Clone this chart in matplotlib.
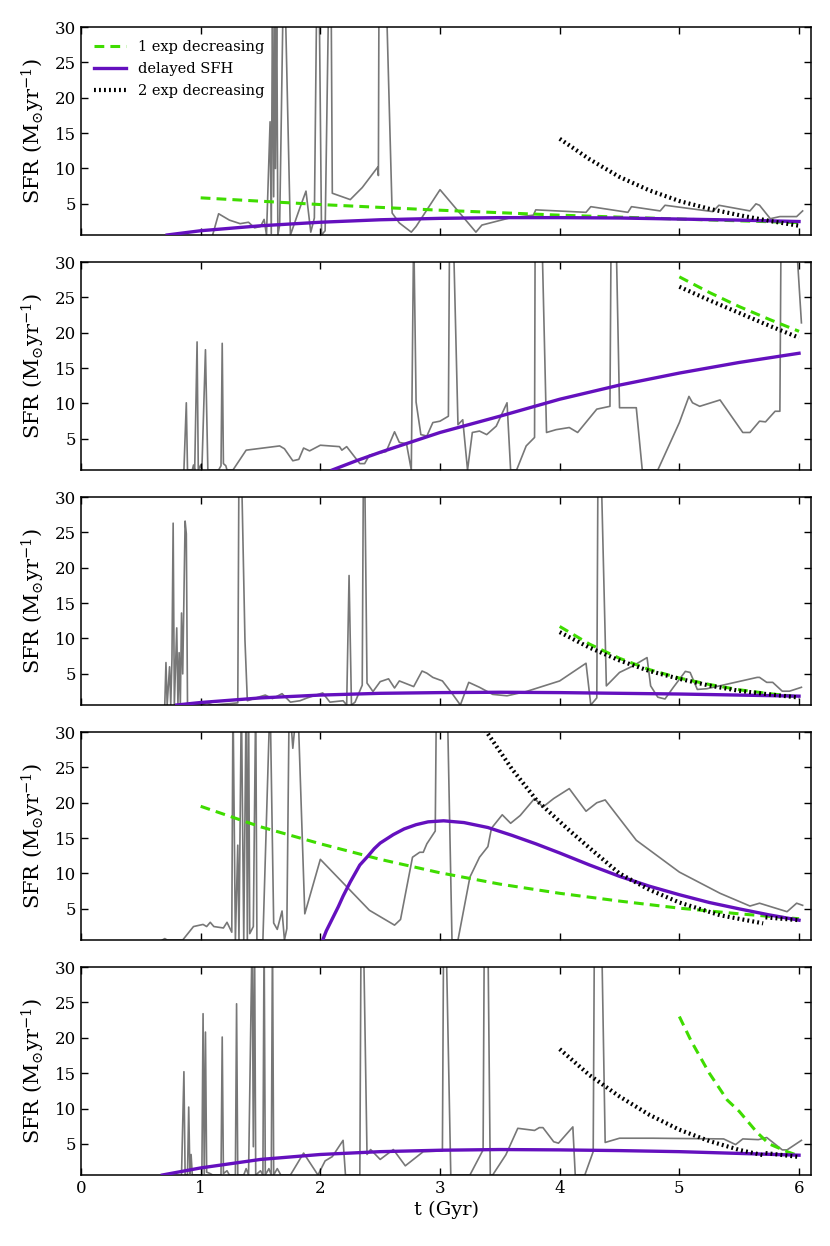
import numpy as np
import matplotlib
matplotlib.use("Agg")
import matplotlib.pyplot as plt

# ---------------- data ----------------
# Panel 1
gray1_t = [1.10, 1.15, 1.24, 1.33, 1.40, 1.45, 1.50, 1.53, 1.55, 1.58, 1.59, 1.60, 1.61, 1.62, 1.625, 1.635, 1.645,
           1.66, 1.69, 1.705, 1.75, 1.82, 1.88, 1.92, 1.95, 1.97, 1.99, 2.01, 2.04, 2.07, 2.09, 2.10, 2.15, 2.25,
           2.35, 2.48, 2.485, 2.49, 2.55, 2.60, 2.66, 2.76, 2.80, 3.00, 3.30, 3.35, 3.58, 3.78, 3.80, 4.22, 4.26,
           4.57, 4.60, 4.84, 4.88, 5.28, 5.33, 5.59, 5.64, 5.67, 5.76, 5.84, 5.98, 6.03]
gray1_v = [0.6, 3.6, 2.7, 2.2, 2.4, 1.6, 1.8, 2.8, 0.6, 16.6, 0.8, 35, 6.0, 35, 10.0, 35, 0.6,
           2.0, 35, 35, 0.6, 4.0, 6.8, 1.0, 3.0, 35, 35, 0.6, 1.2, 35, 35, 6.5, 6.2, 5.6,
           7.3, 10.2, 9.0, 35, 35, 3.7, 2.3, 1.0, 1.8, 7.0, 1.0, 2.0, 3.0, 3.4, 4.15, 3.8, 4.6,
           3.8, 4.6, 4.0, 4.8, 3.9, 4.8, 4.0, 5.0, 4.8, 2.9, 3.2, 3.2, 4.0]
green1_t = [1.0, 2.0, 3.0, 4.0, 5.0, 6.0]
green1_v = [5.85, 4.9, 4.1, 3.4, 2.85, 2.35]
purple1_t = [0.72, 1.0, 1.5, 2.0, 2.5, 3.0, 3.5, 4.0, 4.5, 5.0, 5.5, 6.0]
purple1_v = [0.6, 1.2, 1.9, 2.4, 2.75, 2.95, 3.05, 3.05, 3.0, 2.85, 2.7, 2.5]
black1_t = [4.0, 4.25, 4.5, 4.75, 5.0, 5.25, 5.5, 5.75, 6.0]
black1_v = [14.2, 11.3, 8.8, 6.9, 5.4, 4.3, 3.4, 2.6, 1.9]

# Panel 2
gray2_t = [0.86, 0.88, 0.89, 0.93, 0.94, 0.95, 0.97, 0.98, 1.00, 1.01, 1.04, 1.06, 1.15, 1.17, 1.18, 1.19, 1.21,
           1.22, 1.27, 1.38, 1.66, 1.70, 1.77, 1.82, 1.86, 1.91, 2.00, 2.16, 2.18, 2.22, 2.33, 2.37, 2.41, 2.55,
           2.62, 2.66, 2.72, 2.76, 2.78, 2.80, 2.84, 2.89, 2.94, 3.00, 3.07, 3.08, 3.11, 3.15, 3.19, 3.23, 3.27,
           3.33, 3.39, 3.47, 3.56, 3.59, 3.64, 3.72, 3.79, 3.795, 3.85, 3.89, 3.97, 4.08, 4.15, 4.31, 4.42, 4.43,
           4.47, 4.50, 4.64, 4.69, 4.82, 5.00, 5.08, 5.11, 5.17, 5.34, 5.53, 5.59, 5.67, 5.72, 5.80, 5.84, 5.85,
           5.97, 6.02]
gray2_v = [0.6, 10.1, 0.6, 0.6, 1.3, 0.6, 18.7, 0.6, 1.3, 0.6, 17.6, 0.6, 0.6, 1.2, 18.5, 1.5, 1.2,
           0.6, 0.6, 3.4, 4.0, 3.6, 1.9, 2.1, 3.7, 3.3, 4.1, 3.9, 3.4, 3.9, 1.5, 1.5, 2.7, 3.2,
           6.0, 4.5, 4.3, 0.6, 35, 10.2, 5.6, 5.4, 7.3, 7.5, 8.2, 35, 35, 7.0, 7.7, 0.6, 5.9,
           6.1, 5.6, 6.8, 10.1, 0.6, 0.6, 4.0, 5.2, 35, 35, 5.9, 6.3, 6.6, 5.9, 9.2, 9.6, 35,
           35, 9.4, 9.4, 0.6, 0.6, 7.3, 11.0, 10.1, 9.6, 10.5, 5.9, 5.9, 7.5, 7.4, 8.9, 8.9, 35,
           35, 21.4]
green2_t = [5.0, 5.25, 5.5, 5.75, 6.0]
green2_v = [27.9, 25.7, 23.7, 21.9, 20.2]
purple2_t = [2.1, 2.3, 2.5, 2.66, 3.0, 3.5, 4.0, 4.5, 5.0, 5.5, 6.0]
purple2_v = [0.6, 1.9, 3.1, 4.0, 5.9, 8.2, 10.6, 12.6, 14.3, 15.8, 17.1]
black2_t = [5.0, 5.25, 5.5, 5.75, 6.0]
black2_v = [26.5, 24.6, 22.8, 21.0, 19.3]

# Panel 3
gray3_t = [0.70, 0.71, 0.72, 0.74, 0.75, 0.76, 0.77, 0.78, 0.80, 0.81, 0.82, 0.83, 0.84, 0.85, 0.87, 0.88, 0.89,
           1.00, 1.05, 1.10, 1.25, 1.31, 1.32, 1.34, 1.37, 1.39, 1.50, 1.54, 1.60, 1.68, 1.75, 1.83, 1.89, 2.02,
           2.08, 2.19, 2.22, 2.24, 2.26, 2.29, 2.35, 2.36, 2.37, 2.39, 2.44, 2.50, 2.57, 2.62, 2.66, 2.78, 2.85,
           2.89, 2.94, 3.02, 3.10, 3.17, 3.24, 3.33, 3.44, 3.56, 3.72, 4.00, 4.22, 4.26, 4.31, 4.32, 4.345, 4.39,
           4.50, 4.61, 4.65, 4.73, 4.76, 4.82, 4.88, 4.95, 5.05, 5.09, 5.15, 5.23, 5.65, 5.67, 5.73, 5.78, 5.86,
           5.92, 6.02]
gray3_v = [0.6, 6.6, 0.6, 6.0, 0.6, 7.1, 26.3, 0.6, 11.5, 0.6, 8.0, 0.6, 13.6, 5.0, 26.6, 24.8, 0.6,
           0.6, 0.9, 0.6, 0.8, 0.9, 35, 35, 9.8, 1.2, 1.8, 2.0, 1.5, 2.2, 1.0, 1.2, 1.6, 2.3,
           1.0, 1.2, 0.6, 18.9, 0.6, 1.0, 3.4, 35, 35, 3.7, 2.5, 3.9, 4.3, 3.0, 4.0, 3.2, 5.4,
           5.1, 4.5, 4.0, 2.25, 0.6, 3.8, 3.1, 2.1, 1.9, 2.5, 4.0, 6.5, 0.6, 1.6, 35, 35, 3.3,
           5.2, 6.1, 6.5, 7.3, 3.3, 1.7, 1.45, 3.1, 5.35, 5.2, 2.8, 2.9, 4.5, 4.5, 3.8, 3.8, 2.55,
           2.55, 3.1]
green3_t = [4.0, 4.25, 4.5, 4.75, 5.0, 5.25, 5.5, 5.75, 6.0]
green3_v = [11.7, 9.2, 7.2, 5.6, 4.4, 3.5, 2.75, 2.2, 1.75]
purple3_t = [0.8, 1.0, 1.5, 2.0, 2.5, 3.0, 3.5, 4.0, 4.5, 5.0, 5.5, 6.0]
purple3_v = [0.6, 0.95, 1.6, 2.0, 2.25, 2.35, 2.4, 2.35, 2.25, 2.15, 2.0, 1.85]
black3_t = [4.0, 4.25, 4.5, 4.75, 5.0, 5.25, 5.5, 5.75, 6.0]
black3_v = [10.9, 8.7, 6.9, 5.4, 4.3, 3.35, 2.6, 2.1, 1.65]

# Panel 4
gray4_t = [0.68, 0.70, 0.72, 0.85, 0.94, 1.02, 1.05, 1.08, 1.11, 1.19, 1.22, 1.26, 1.27, 1.29, 1.31, 1.32, 1.34,
           1.36, 1.38, 1.39, 1.40, 1.41, 1.44, 1.46, 1.47, 1.52, 1.58, 1.61, 1.64, 1.68, 1.70, 1.72, 1.74, 1.77,
           1.81, 1.87, 2.00, 2.41, 2.62, 2.67, 2.77, 2.83, 2.86, 2.89, 2.96, 2.97, 3.06, 3.10, 3.15, 3.25, 3.33,
           3.40, 3.43, 3.52, 3.59, 3.67, 3.79, 3.86, 3.95, 4.08, 4.22, 4.31, 4.38, 4.64, 5.00, 5.34, 5.59, 5.67,
           5.90, 5.98, 6.03]
gray4_v = [0.6, 0.8, 0.6, 0.6, 2.5, 2.8, 2.5, 3.1, 2.5, 2.3, 3.1, 1.7, 35, 0.6, 14.0, 0.6, 35,
           0.6, 35, 0.6, 35, 1.5, 2.5, 35, 0.6, 0.6, 35, 3.0, 2.1, 4.7, 0.6, 2.2, 35, 27.7,
           35, 4.3, 12.0, 4.8, 2.7, 3.5, 12.3, 13.0, 13.0, 14.2, 16.0, 35, 35, 0.6, 0.6, 9.5, 12.3,
           13.8, 16.4, 18.3, 17.1, 18.2, 20.6, 19.4, 20.6, 22.0, 18.8, 20.0, 20.4, 14.7, 10.2, 7.2, 5.4, 5.8,
           4.6, 5.8, 5.5]
green4_t = [1.0, 1.5, 2.0, 2.5, 3.0, 3.5, 4.0, 4.5, 5.0, 5.5, 6.0]
green4_v = [19.5, 16.6, 14.2, 12.0, 10.1, 8.5, 7.2, 6.1, 5.1, 4.3, 3.6]
purple4_t = [2.02, 2.05, 2.10, 2.15, 2.19, 2.25, 2.33, 2.40, 2.45, 2.50, 2.61, 2.70, 2.80, 2.90, 3.03, 3.20,
             3.40, 3.60, 3.80, 4.00, 4.25, 4.50, 4.75, 5.00, 5.25, 5.50, 5.75, 6.00]
purple4_v = [0.6, 1.9, 3.6, 5.3, 6.8, 8.8, 11.2, 12.5, 13.5, 14.3, 15.5, 16.3, 16.9, 17.3, 17.45, 17.2,
             16.5, 15.4, 14.2, 12.9, 11.2, 9.6, 8.2, 7.0, 5.9, 5.0, 4.15, 3.4]
black4_t = [3.30, 3.39, 3.60, 3.81, 4.08, 4.25, 4.50, 4.75, 5.00, 5.34, 5.70, 5.71, 5.72, 6.00]
black4_v = [32.0, 30.0, 24.8, 20.3, 16.1, 13.6, 10.0, 7.7, 5.9, 4.1, 2.95, np.nan, 3.8, 3.4]

# Panel 5
gray5_t = [0.84, 0.86, 0.87, 0.89, 0.90, 0.91, 0.92, 0.93, 1.01, 1.02, 1.03, 1.04, 1.05, 1.08, 1.10, 1.17, 1.18,
           1.19, 1.22, 1.24, 1.29, 1.30, 1.31, 1.36, 1.38, 1.40, 1.43, 1.44, 1.45, 1.46, 1.50, 1.52, 1.53, 1.54,
           1.57, 1.59, 1.60, 1.61, 1.64, 1.67, 1.75, 1.86, 1.98, 2.04, 2.10, 2.19, 2.21, 2.33, 2.34, 2.36, 2.39,
           2.42, 2.50, 2.61, 2.71, 2.86, 3.02, 3.03, 3.05, 3.09, 3.25, 3.36, 3.37, 3.40, 3.42, 3.44, 3.55, 3.65,
           3.79, 3.83, 3.86, 3.95, 3.99, 4.11, 4.13, 4.21, 4.28, 4.29, 4.35, 4.38, 4.50, 4.78, 5.37, 5.47, 5.53,
           5.66, 5.73, 5.86, 5.90, 6.02]
gray5_v = [0.6, 15.2, 0.6, 0.6, 10.2, 0.8, 3.5, 0.6, 0.6, 23.4, 0.8, 20.8, 1.0, 0.8, 0.6, 0.6, 20.1,
           0.8, 1.2, 0.6, 0.6, 24.8, 0.6, 0.6, 1.5, 0.6, 35, 4.6, 35, 0.6, 1.2, 0.6, 35, 0.6,
           1.5, 0.6, 35, 0.6, 1.5, 0.6, 0.6, 3.7, 0.6, 2.6, 3.2, 5.5, 0.6, 0.6, 35, 35, 3.5,
           4.2, 2.8, 4.2, 1.9, 3.9, 4.0, 35, 35, 0.6, 0.6, 4.15, 35, 35, 0.6, 0.6, 3.45, 7.2,
           6.9, 7.3, 7.3, 5.3, 5.1, 7.4, 0.6, 0.6, 3.9, 35, 35, 5.2, 5.8, 5.8, 5.7, 4.9, 5.7,
           5.6, 5.9, 4.15, 4.15, 5.5]
green5_t = [5.0, 5.1, 5.25, 5.4, 5.5, 5.65, 5.75, 5.9, 6.0]
green5_v = [23.0, 19.5, 15.0, 11.2, 9.6, 6.6, 5.0, 3.9, 3.3]
purple5_t = [0.68, 1.0, 1.5, 2.0, 2.5, 3.0, 3.5, 4.0, 4.5, 5.0, 5.5, 6.0]
purple5_v = [0.6, 1.6, 2.8, 3.5, 3.9, 4.1, 4.2, 4.15, 4.05, 3.9, 3.65, 3.4]
black5_t = [4.0, 4.25, 4.5, 4.75, 5.0, 5.25, 5.5, 5.70, 5.71, 5.72, 6.00]
black5_v = [18.4, 14.7, 11.7, 9.1, 7.0, 5.4, 4.15, 3.4, np.nan, 3.7, 3.15]

legend_labels = ["1 exp decreasing", "delayed SFH", "2 exp decreasing"]
xticks = [0, 1, 2, 3, 4, 5, 6]
yticks = [5, 10, 15, 20, 25, 30]

panels = [
    (gray1_t, gray1_v, green1_t, green1_v, purple1_t, purple1_v, black1_t, black1_v),
    (gray2_t, gray2_v, green2_t, green2_v, purple2_t, purple2_v, black2_t, black2_v),
    (gray3_t, gray3_v, green3_t, green3_v, purple3_t, purple3_v, black3_t, black3_v),
    (gray4_t, gray4_v, green4_t, green4_v, purple4_t, purple4_v, black4_t, black4_v),
    (gray5_t, gray5_v, green5_t, green5_v, purple5_t, purple5_v, black5_t, black5_v),
]

# ---------------- style ----------------
plt.rcParams['font.family'] = ['DejaVu Serif']
plt.rcParams['mathtext.fontset'] = 'dejavuserif'

GRAY = '#777777'
GREEN = '#3fdc00'
PURPLE = '#6410be'
BLACK = '#000000'

fig = plt.figure(figsize=(8.30, 12.46), dpi=100)
fig.subplots_adjust(left=81/830, right=811/830, top=1-27/1246, bottom=1-1175/1246, hspace=0.13)
axes = [fig.add_subplot(5, 1, i + 1) for i in range(5)]

for i, (ax, p) in enumerate(zip(axes, panels)):
    gt, gv, et, ev, pt, pv, bt, bv = p
    ax.plot(gt, gv, color=GRAY, lw=1.2, zorder=1)
    l1, = ax.plot(et, ev, color=GREEN, lw=2.2, ls=(0, (3.2, 2.0)), zorder=2, label=legend_labels[0])
    l2, = ax.plot(pt, pv, color=PURPLE, lw=2.4, zorder=3, label=legend_labels[1])
    l3, = ax.plot(bt, bv, color=BLACK, lw=3.0, ls=(0, (0.45, 0.75)), zorder=4, label=legend_labels[2],
                  solid_capstyle='butt', dash_capstyle='butt')
    ax.set_xlim(0, 6.1)
    ax.set_ylim(0.6, 30)
    ax.set_xticks(xticks)
    ax.set_yticks(yticks)
    ax.tick_params(direction='in', top=True, right=True, length=5, width=1.0, labelsize=12)
    for s in ax.spines.values():
        s.set_linewidth(1.1)
    ax.set_ylabel(r'SFR (M$_{\odot}$yr$^{-1}$)', fontsize=15, labelpad=6)
    if i < 4:
        ax.tick_params(labelbottom=False)
    else:
        ax.set_xlabel('t (Gyr)', fontsize=14, labelpad=3)
    if i == 0:
        ax.legend(handles=[l1, l2, l3], loc='upper left', frameon=False, fontsize=10.5,
                  handlelength=2.2, labelspacing=0.55, borderaxespad=0.5, handletextpad=0.8)

fig.savefig('out.png', dpi=100)
